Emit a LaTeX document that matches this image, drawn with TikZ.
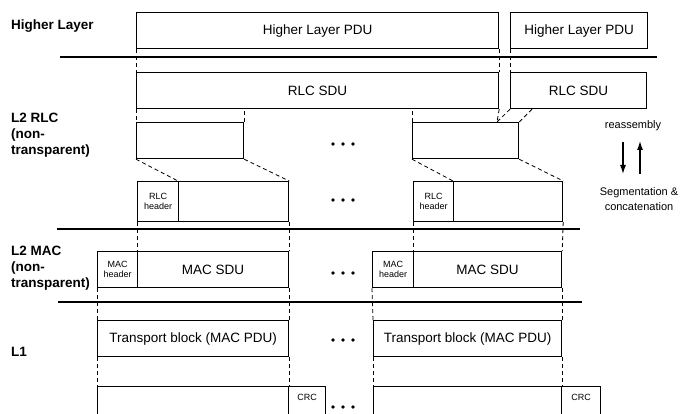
\documentclass[tikz,border=0pt]{standalone}
\usepackage{fontspec}
\setmainfont{Liberation Sans}
\usetikzlibrary{arrows.meta,positioning}

\tikzset{
  pdu/.style={draw, line width=1.2pt, inner sep=0pt, anchor=north west, minimum height=36pt, font=\fontsize{13.5}{15}\selectfont},
  hdr/.style={pdu, align=center, font=\fontsize{9}{10}\selectfont},
  small/.style={font=\fontsize{9}{10}\selectfont},
  guide/.style={line width=0.8pt, dash pattern=on 4pt off 3pt},
  layer/.style={anchor=west, align=left, inner sep=0pt, font=\bfseries\fontsize{13.5}{16}\selectfont},
  note/.style={align=center, inner sep=0pt, font=\fontsize{11}{15}\selectfont},
  rule/.style={line width=1.3pt},
}

\begin{document}
\begin{tikzpicture}[x=1pt,y=-1pt]
    \clip (0,0) rectangle (681,414);

    % Layer names
    \node[layer] (hl) at (11,26) {Higher Layer};
    \node[layer] (rlc) at (11,135) {L2 RLC\\(non-\\transparent)};
    \node[layer] (mac) at (11,268) {L2 MAC\\(non-\\transparent)};
    \node[layer] (phy) at (11,352) {L1};

    % Layer borders
    \draw[rule] (60,57) -- (657,57);
    \draw[rule] (57,229) -- (580,229);
    \draw[rule] (58,302) -- (582,302);

    % Higher layer PDUs and RLC SDUs
    \node[pdu, minimum width=362pt] (hpduA) at (136,12) {Higher Layer PDU};
    \node[pdu, minimum width=137pt] (hpduB) at (510,12) {Higher Layer PDU};
    \node[pdu, minimum width=362pt] (sduA) at (136,72) {RLC SDU};
    \node[pdu, minimum width=136pt] (sduB) at (510,72) {RLC SDU};
    \draw[guide] (hpduA.south west) -- (sduA.north west);
    \draw[guide] (hpduA.south east) -- (sduA.north east);
    \draw[guide] (hpduB.south west) -- (sduB.north west);

    % Segments
    \node[pdu, minimum width=107pt] (segA) at (136,122) {};
    \node[pdu, minimum width=106pt] (segB) at (412,122) {};
    \coordinate (joinB) at (497,122);
    \draw[guide] (sduA.south west) -- (segA.north west);
    \draw[guide] (segA.north east) -- (segA.north east |- sduA.south);
    \draw[guide] (segB.north west) -- (segB.north west |- sduA.south);
    \draw[guide] (sduA.south east) -- (joinB);
    \draw[guide] (sduB.south west) -- (joinB);
    \draw[guide] ([xshift=22pt]sduB.south west) -- (segB.north east);

    % RLC PDUs
    \node[hdr, minimum width=41pt, minimum height=40pt] (rhdrA) at (137,181) {RLC\\header};
    \node[pdu, minimum width=110pt, minimum height=40pt] (rpayA) at (178,181) {};
    \node[hdr, minimum width=40pt, minimum height=40pt] (rhdrB) at (413,181) {RLC\\header};
    \node[pdu, minimum width=109pt, minimum height=40pt] (rpayB) at (453,181) {};
    \draw[guide] (segA.south west) -- (rpayA.north west);
    \draw[guide] (segA.south east) -- (rpayA.north east);
    \draw[guide] (segB.south west) -- (rpayB.north west);
    \draw[guide] (segB.south east) -- (rpayB.north east);

    % MAC PDUs
    \node[hdr, minimum width=40pt] (mhdrA) at (97,251) {MAC\\header};
    \node[pdu, minimum width=151pt] (msduA) at (137,251) {MAC SDU};
    \node[hdr, minimum width=41pt] (mhdrB) at (372,251) {MAC\\header};
    \node[pdu, minimum width=148pt] (msduB) at (413,251) {MAC SDU};
    \draw[guide] (rhdrA.south west) -- (msduA.north west);
    \draw[guide] (rpayA.south east) -- (msduA.north east);
    \draw[guide] (rhdrB.south west) -- (msduB.north west);
    \draw[guide] (rpayB.south east) -- (msduB.north east);

    % Transport blocks
    \node[pdu, minimum width=191pt] (tbA) at (97,320) {Transport block (MAC PDU)};
    \node[pdu, minimum width=188pt] (tbB) at (373,320) {Transport block (MAC PDU)};
    \draw[guide] (mhdrA.south west) -- (tbA.north west);
    \draw[guide] (msduA.south east) -- (tbA.north east);
    \draw[guide] (mhdrB.south west) -- (tbB.north west);
    \draw[guide] (msduB.south east) -- (tbB.north east);

    % Blocks with CRC
    \node[pdu, minimum width=191pt, minimum height=50pt] (blkA) at (97,386) {};
    \node[pdu, minimum width=37pt, minimum height=50pt,
      label={[small, anchor=center, yshift=-11pt]north:CRC}] (crcA) at (288,386) {};
    \node[pdu, minimum width=188pt, minimum height=50pt] (blkB) at (373,386) {};
    \node[pdu, minimum width=39pt, minimum height=50pt,
      label={[small, anchor=center, yshift=-11pt]north:CRC}] (crcB) at (561,386) {};
    \draw[guide] (tbA.south west) -- (blkA.north west);
    \draw[guide] (tbA.south east) -- (blkA.north east);
    \draw[guide] (tbB.south west) -- (blkB.north west);
    \draw[guide] (tbB.south east) -- (blkB.north east);

    % Dots between the two columns
    \foreach \y in {144,200,273,340,407}
      \foreach \x in {333,343,353}
        \fill (\x,\y) circle (1.9pt);

    % Direction of processing
    \node[note] (reasm) at (633,126) {reassembly};
    \node[note] (segm) at (639,199) {Segmentation \&\\concatenation};
    \coordinate (downTop) at (623,142);
    \coordinate (downEnd) at (623,174);
    \coordinate (upEnd) at (640,141);
    \coordinate (upBot) at (640,174);
    \draw[line width=1.2pt, -{Latex[length=9pt,width=6pt]}] (downTop) -- (downEnd);
    \draw[line width=1.2pt, -{Latex[length=9pt,width=6pt]}] (upBot) -- (upEnd);
\end{tikzpicture}
\end{document}
